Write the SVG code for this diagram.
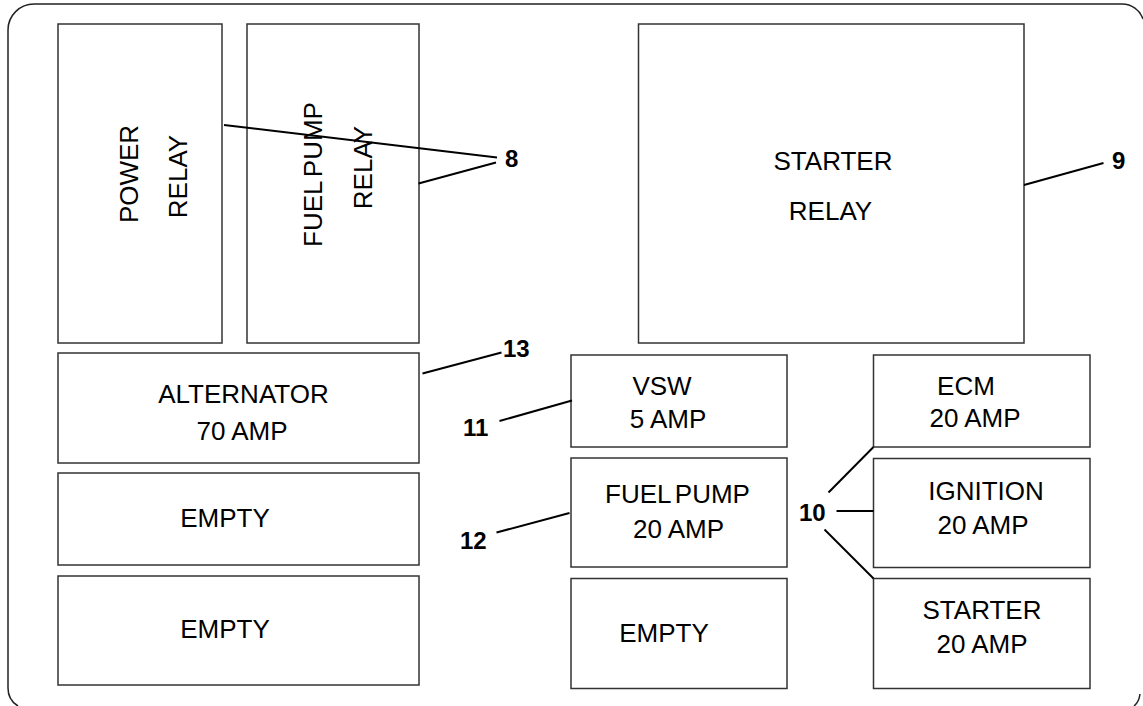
<svg xmlns="http://www.w3.org/2000/svg" width="1143" height="706" viewBox="0 0 1143 706">
<style>
.box{fill:#fff;stroke:#333;stroke-width:1.5}
.t{font-family:"Liberation Sans",Arial,sans-serif;font-size:26px;fill:#000;text-anchor:middle}
.n{font-family:"Liberation Sans",Arial,sans-serif;font-size:24px;font-weight:bold;fill:#000}
.ld{stroke:#000;stroke-width:2;fill:none}
.frame{fill:none;stroke:#222;stroke-width:1.5}
</style>
<rect width="1143" height="706" fill="#fff"/>
<g id="frame">
<path class="frame" d="M 18,706 Q 8,700 8,688 L 8,30 A 26 26 0 0 1 34,4 L 1122,4 A 22 22 0 0 1 1143,19"/>
<path class="frame" d="M 1140,694 Q 1139,702 1134,706"/>
</g>
<g id="power-relay">
<rect class="box" x="58" y="24" width="164" height="319"/>
<text class="t" transform="translate(138,174) rotate(-90)">POWER</text>
<text class="t" transform="translate(187,176.5) rotate(-90)">RELAY</text>
</g>
<g id="fuel-pump-relay">
<rect class="box" x="247" y="24" width="172" height="319"/>
<text class="t" word-spacing="-3" transform="translate(322,174.5) rotate(-90)">FUEL PUMP</text>
<text class="t" transform="translate(371.5,167.5) rotate(-90)">RELAY</text>
</g>
<g id="starter-relay">
<rect class="box" x="638.5" y="24" width="385.5" height="319"/>
<text class="t" x="833" y="170">STARTER</text>
<text class="t" x="830.5" y="220">RELAY</text>
</g>
<g id="alternator">
<rect class="box" x="58" y="353" width="361" height="110"/>
<text class="t" x="243.5" y="403">ALTERNATOR</text>
<text class="t" x="242" y="440">70 AMP</text>
</g>
<g id="empty-1">
<rect class="box" x="58" y="473" width="361" height="92"/>
<text class="t" x="225" y="527">EMPTY</text>
</g>
<g id="empty-2">
<rect class="box" x="58" y="576" width="361" height="109"/>
<text class="t" x="225" y="638">EMPTY</text>
</g>
<g id="vsw">
<rect class="box" x="571" y="355" width="216" height="92"/>
<text class="t" x="662" y="395">VSW</text>
<text class="t" x="668" y="428">5 AMP</text>
</g>
<g id="fuel-pump-fuse">
<rect class="box" x="571" y="458" width="216" height="109"/>
<text class="t" word-spacing="-3" x="677.5" y="503">FUEL PUMP</text>
<text class="t" x="678.5" y="538">20 AMP</text>
</g>
<g id="empty-3">
<rect class="box" x="571" y="578.5" width="216" height="110"/>
<text class="t" x="664" y="642">EMPTY</text>
</g>
<g id="ecm">
<rect class="box" x="873.5" y="355" width="216.5" height="92"/>
<text class="t" x="966" y="395">ECM</text>
<text class="t" x="975" y="427">20 AMP</text>
</g>
<g id="ignition">
<rect class="box" x="873.5" y="458.5" width="216.5" height="109"/>
<text class="t" x="986" y="500">IGNITION</text>
<text class="t" x="983" y="534">20 AMP</text>
</g>
<g id="starter-fuse">
<rect class="box" x="873.5" y="578.5" width="216.5" height="110"/>
<text class="t" x="982" y="619">STARTER</text>
<text class="t" x="982" y="653">20 AMP</text>
</g>
<g id="connectors">
<line class="ld" x1="224" y1="125" x2="497" y2="157.5"/>
<line class="ld" x1="418.5" y1="183.5" x2="496" y2="162.5"/>
<line class="ld" x1="1024" y1="185" x2="1103.5" y2="163"/>
<line class="ld" x1="422.5" y1="373.5" x2="501.5" y2="352.5"/>
<line class="ld" x1="499.5" y1="421" x2="572" y2="400.5"/>
<line class="ld" x1="496.5" y1="532.5" x2="569.5" y2="513"/>
<line class="ld" x1="828.5" y1="492.5" x2="873.5" y2="447"/>
<line class="ld" x1="836.5" y1="511" x2="873.5" y2="511"/>
<line class="ld" x1="824.5" y1="529.5" x2="873.5" y2="578.5"/>
</g>
<g id="labels">
<text class="n" x="505" y="167">8</text>
<text class="n" x="1112" y="169">9</text>
<text class="n" x="799" y="521">10</text>
<text class="n" x="463" y="436">11</text>
<text class="n" x="460" y="549">12</text>
<text class="n" x="503" y="357">13</text>
</g>
</svg>
